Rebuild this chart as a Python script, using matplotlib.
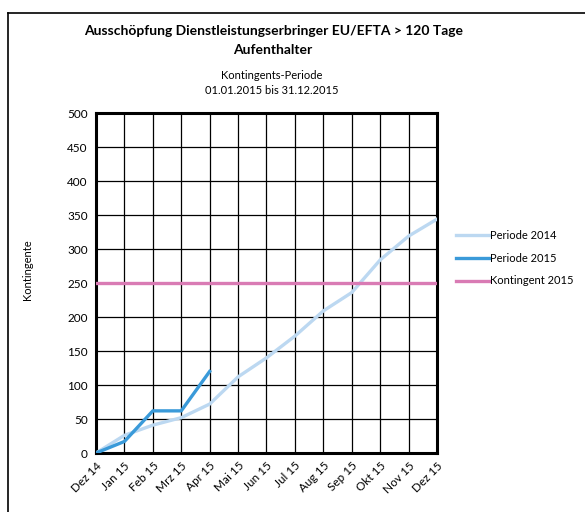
import matplotlib
matplotlib.use("Agg")
import matplotlib.pyplot as plt
from matplotlib.lines import Line2D

plt.rcParams['font.family'] = ['Lato', 'DejaVu Sans']

months = ["Dez 14", "Jan 15", "Feb 15", "Mrz 15", "Apr 15", "Mai 15", "Jun 15",
          "Jul 15", "Aug 15", "Sep 15", "Okt 15", "Nov 15", "Dez 15"]
periode_2014 = [0, 26, 41, 52, 72, 112, 140, 172, 209, 236, 284, 319, 344]
periode_2015 = [0, 17, 62, 62, 120]
kontingent_2015 = [250] * len(months)
y_ticks = list(range(0, 501, 50))

fig = plt.figure(figsize=(5.85, 5.12), dpi=100)
ax = fig.add_axes([0.1641, 0.1152, 0.5829, 0.664])

x = list(range(len(months)))
ax.plot(x, periode_2014, color="#bcd8f1", lw=2.4, label="Periode 2014", zorder=3)
ax.plot(x[:len(periode_2015)], periode_2015, color="#3a9ad9", lw=2.4, label="Periode 2015", zorder=4)
ax.plot(x, kontingent_2015, color="#d97bb4", lw=2.4, label="Kontingent 2015", zorder=3)

ax.set_xlim(0, len(months) - 1)
ax.set_ylim(0, 500)
ax.set_yticks(y_ticks)
ax.set_xticks(x)
ax.set_xticklabels(months, rotation=45, ha="right", rotation_mode="anchor", fontsize=8.5)
ax.tick_params(axis="y", labelsize=8.5, length=0, pad=6)
ax.tick_params(axis="x", length=0, pad=5)
ax.grid(True, color="black", lw=0.9)
ax.set_axisbelow(True)
for s in ax.spines.values():
    s.set_linewidth(2.2)
    s.set_color("black")

ax.set_ylabel("Kontingente", fontsize=8)
ax.yaxis.set_label_coords(-0.185, 0.54)

fig.text(0.467, 0.939, "Ausschöpfung Dienstleistungserbringer EU/EFTA > 120 Tage",
         ha="center", va="center", fontsize=10, fontweight="bold")
fig.text(0.467, 0.902, "Aufenthalter", ha="center", va="center", fontsize=10, fontweight="bold")
fig.text(0.465, 0.852, "Kontingents-Periode", ha="center", va="center", fontsize=8)
fig.text(0.465, 0.824, "01.01.2015 bis 31.12.2015", ha="center", va="center", fontsize=8)

leg = fig.legend(loc="upper left", bbox_to_anchor=(0.762, 0.57), frameon=False,
                 fontsize=8, handlelength=3.0, handletextpad=0.1, labelspacing=1.05)

# outer chart frame
fig.add_artist(Line2D([8/585, 8/585], [0, 1 - 13/512], color="black", lw=1.2, transform=fig.transFigure))
fig.add_artist(Line2D([8/585, 1], [1 - 13/512, 1 - 13/512], color="black", lw=1.2, transform=fig.transFigure))

fig.savefig("out.png", dpi=100)
